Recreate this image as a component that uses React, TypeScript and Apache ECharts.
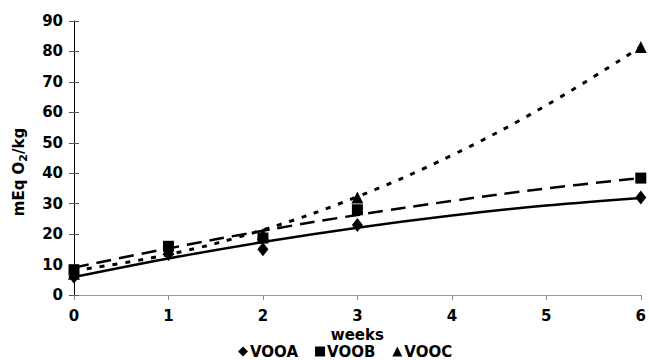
import React, { useEffect, useRef } from "react";
import * as echarts from "echarts";

const weeks = [0, 1, 2, 3, 6];
const vooa = [6, 13.5, 15, 23, 32];
const voob = [8.2, 16, 18.7, 28, 38.4];
const vooc = [7, 15, 20, 32, 81.5];

const trendWeeks = [0, 1, 2, 3, 4, 5, 6];
const trendA = [5.9, 12.0, 17.4, 22.1, 26.1, 29.4, 31.9];
const trendB = [9.0, 15.3, 21.1, 26.3, 30.9, 35.0, 38.4];
const trendC = [8.0, 13.3, 21.4, 32.3, 45.9, 62.3, 81.5];

const yTicks = [0, 90, 10];
const xTicks = [0, 6, 1];

const FONT = "DejaVu Sans";

const pairs = (xs: number[], ys: number[]) => xs.map((x, i) => [x, ys[i]]);

export default function App() {
  const ref = useRef<HTMLDivElement>(null);
  useEffect(() => {
    if (!ref.current) return;
    const chart = echarts.init(ref.current, null, { renderer: "svg" });
    const labelStyle = { color: "#000", fontFamily: FONT, fontWeight: "bold", fontSize: 15 };
    chart.setOption({
      animation: false,
      backgroundColor: "#fff",
      grid: { left: 74, right: 4, top: 21, bottom: 65, containLabel: false },
      xAxis: {
        type: "value",
        min: xTicks[0],
        max: xTicks[1],
        interval: xTicks[2],
        name: "weeks",
        nameLocation: "middle",
        nameGap: 27,
        nameTextStyle: { ...labelStyle, lineHeight: 15 },
        axisLine: { show: true, lineStyle: { color: "#999", width: 1 } },
        axisTick: { show: true, inside: false, length: 5, lineStyle: { color: "#888" } },
        axisLabel: { ...labelStyle, margin: 13 },
        splitLine: { show: false },
      },
      yAxis: [
        {
          type: "value",
          min: yTicks[0],
          max: yTicks[1],
          interval: yTicks[2],
          axisLine: { show: true, lineStyle: { color: "#000", width: 1 } },
          axisTick: { show: true, inside: false, length: 5, lineStyle: { color: "#555" } },
          axisLabel: { ...labelStyle, margin: 11 },
          splitLine: { show: false },
        },
        {
          type: "value",
          position: "left",
          min: yTicks[0],
          max: yTicks[1],
          interval: yTicks[2],
          axisLine: { show: false },
          axisTick: { show: true, inside: true, length: 5, lineStyle: { color: "#555" } },
          axisLabel: { show: false },
          splitLine: { show: false },
        },
      ],
      legend: {
        data: ["VOOA", "VOOB", "VOOC"],
        left: 238,
        top: 344,
        padding: 0,
        itemWidth: 10,
        itemHeight: 10,
        itemGap: 17,
        textStyle: { ...labelStyle, lineHeight: 15, padding: [0, 0, 0, -3] },
      },
      graphic: [
        {
          type: "text",
          x: 19,
          y: 172,
          rotation: Math.PI / 2,
          style: {
            text: "{a|mEq O}{b|2}{a|/kg}",
            align: "center",
            verticalAlign: "middle",
            rich: {
              a: { fontFamily: FONT, fontWeight: "bold", fontSize: 15, fill: "#000", color: "#000" },
              b: {
                fontFamily: FONT,
                fontWeight: "bold",
                fontSize: 11,
                fill: "#000",
                color: "#000",
                verticalAlign: "bottom",
                padding: [8, 0, 0, 0],
              },
            },
          },
        },
      ],
      series: [
        {
          name: "trendA",
          type: "line",
          data: pairs(trendWeeks, trendA),
          smooth: 0.4,
          showSymbol: false,
          lineStyle: { color: "#000", width: 2.5, type: "solid" },
          z: 2,
        },
        {
          name: "trendB",
          type: "line",
          data: pairs(trendWeeks, trendB),
          smooth: 0.4,
          showSymbol: false,
          lineStyle: { color: "#000", width: 2.5, type: [15, 8] },
          z: 2,
        },
        {
          name: "trendC",
          type: "line",
          data: pairs(trendWeeks, trendC),
          smooth: 0.4,
          showSymbol: false,
          lineStyle: { color: "#000", width: 3, type: [5, 8] },
          z: 2,
        },
        {
          name: "VOOA",
          type: "scatter",
          data: pairs(weeks, vooa),
          symbol: "diamond",
          symbolSize: [11, 14],
          itemStyle: { color: "#000", opacity: 1 },
          z: 3,
        },
        {
          name: "VOOB",
          type: "scatter",
          data: pairs(weeks, voob),
          symbol: "rect",
          symbolSize: 11,
          itemStyle: { color: "#000", opacity: 1 },
          z: 3,
        },
        {
          name: "VOOC",
          type: "scatter",
          data: pairs(weeks, vooc),
          symbol: "triangle",
          symbolSize: 12,
          itemStyle: { color: "#000", opacity: 1 },
          z: 3,
        },
      ],
    });
    return () => chart.dispose();
  }, []);
  return <div ref={ref} style={{ width: 649, height: 360, position: "absolute", left: 0, top: 0 }} />;
}
